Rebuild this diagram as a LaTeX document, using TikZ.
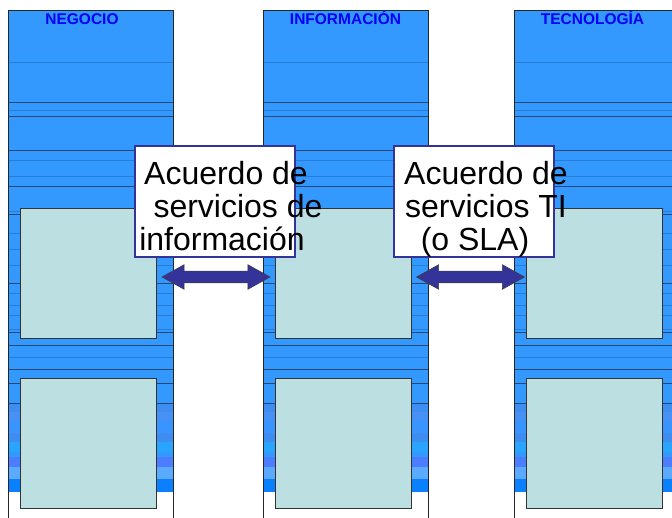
\documentclass[tikz,border=0pt]{standalone}
\usepackage{fontspec}
\setmainfont{Liberation Sans}
\usetikzlibrary{shapes.arrows}

\definecolor{colblue}{RGB}{51,153,255}
\definecolor{darkline}{RGB}{40,72,115}
\definecolor{faintline}{RGB}{40,126,215}
\definecolor{cellfill}{RGB}{188,224,226}
\definecolor{slaframe}{RGB}{51,51,153}
\definecolor{headblue}{RGB}{0,0,245}
\definecolor{bandA}{RGB}{61,142,240}
\definecolor{bandB}{RGB}{71,145,245}
\definecolor{bandC}{RGB}{58,148,255}
\definecolor{bandD}{RGB}{42,165,255}
\definecolor{bandE}{RGB}{77,125,255}
\definecolor{bandF}{RGB}{90,170,255}
\definecolor{bandG}{RGB}{10,128,255}

\begin{document}
\begin{tikzpicture}[x=1pt,y=-1pt,
  header/.style={font=\fontsize{15.5}{18}\selectfont\bfseries,text=headblue,anchor=base,inner sep=0pt},
  slabox/.style={draw=slaframe,line width=2pt,fill=white,minimum width=160pt,minimum height=111pt,inner sep=0pt},
  slatext/.style={font=\fontsize{32}{33}\selectfont,align=center,anchor=north,inner sep=0pt},
  cell/.style={draw=black!80,line width=0.9pt,fill=cellfill},
  link/.style={double arrow,draw=black!75,fill=slaframe,line width=0.6pt,
    minimum height=108pt,inner xsep=0pt,inner ysep=5.5pt,
    double arrow head extend=6.5pt,double arrow tip angle=58}]
\useasboundingbox (0,0) rectangle (672,518);
\clip (0,0) rectangle (672,518);

% Columns
\foreach \cx in {8,263,514} {
  \fill[colblue] (\cx,10) rectangle ++(165,482);
  % colour bands at the foot
  \foreach \ya/\yb/\c in {403/412/bandA,412/420/bandB,420/433/bandC,433/442/bandA,
                          442/452/bandD,457/467/bandE,467/479/bandF,479/492/bandG}
    \fill[\c] (\cx,\ya) rectangle (\cx+165,\yb);
  % faint stripes
  \foreach \y in {62,110,160,176,211,233,249,265,293,305,315,329,357}
    \draw[faintline,line width=0.6pt] (\cx,\y) -- ++(165,0);
  % dark stripes
  \foreach \y in {102,116,150,186,214,283,332,345,369,383,403}
    \draw[darkline,line width=0.9pt] (\cx,\y) -- ++(165,0);
  \draw[black!85,line width=0.9pt] (\cx,530) -- (\cx,10) -- (\cx+165,10) -- (\cx+165,530);
  % boxes
  \draw[cell] (\cx+12,208) rectangle ++(136,130);
  \draw[cell] (\cx+12,378) rectangle ++(136,130);
}

% Column titles
\node[header] (negocio) at (82,25) {NEGOCIO};
\node[header] (informacion) at (345.5,24.5) {INFORMACIÓN};
\node[header] (tecnologia) at (592.5,25) {TECNOLOGÍA};

% Agreements
\node[slabox] (sla1) at (215,201.5) {};
\node[slabox] (sla2) at (474,201.5) {};
\node[slatext] (sla1txt) at (226,161) {Acuerdo de\\\hspace*{24pt}servicios de\\información\hspace*{8pt}};
\node[slatext] (sla2txt) at (486,161) {Acuerdo de\\servicios TI\\(o SLA)\hspace*{22pt}};

% Links between columns
\node[link] (link1) at (216,277) {};
\node[link] (link2) at (470.5,277) {};
\end{tikzpicture}
\end{document}
